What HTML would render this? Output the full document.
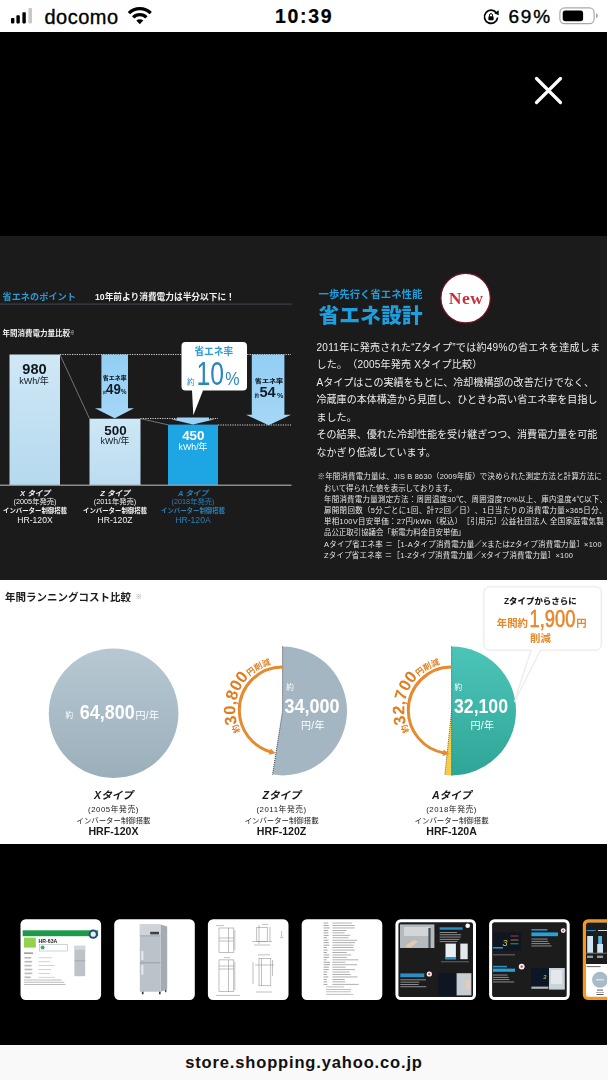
<!DOCTYPE html>
<html lang="ja">
<head>
<meta charset="utf-8">
<title>store.shopping.yahoo.co.jp</title>
<style>
*{margin:0;padding:0;box-sizing:border-box;text-spacing-trim:space-all}
html,body{width:608px;height:1080px;overflow:hidden;background:#fff}
body{position:relative;font-family:"Liberation Sans","Noto Sans CJK JP",sans-serif;color:#000}
.abs{position:absolute;white-space:nowrap;line-height:1}
#stage{position:absolute;left:0;top:0;width:607px;height:1080px;background:#000;overflow:hidden}
#status{position:absolute;left:0;top:0;width:608px;height:32px;background:#fff}
#darkpanel{position:absolute;left:0;top:236px;width:607px;height:344px;background:#1b1b1b}
#whitepanel{position:absolute;left:0;top:580px;width:607px;height:264px;background:#fff}
#bottombar{position:absolute;left:0;top:1045px;width:608px;height:35px;background:#f9f9f9}
svg{position:absolute;left:0;top:0;overflow:visible}
#chart,#righthead,#bodytext,#footnote,#cost{filter:blur(0.4px)}
.jp{font-family:"Liberation Sans","Noto Sans CJK JP",sans-serif}
</style>
</head>
<body>
<div id="stage">
  <div id="darkpanel"></div>
  <div id="whitepanel"></div>
<!-- THUMBNAILS -->
<svg width="607" height="1080" viewBox="0 0 607 1080" id="thumbs" style="overflow:hidden" font-family="'Liberation Sans','Noto Sans CJK JP',sans-serif">
  <defs>
    <filter id="tb" x="-5%" y="-5%" width="110%" height="110%"><feGaussianBlur stdDeviation="0.35"/></filter>
  </defs>
  <g filter="url(#tb)">
  <!-- 1 : spec sheet -->
  <g>
    <rect x="20.5" y="919.2" width="80.6" height="80.8" rx="5.2" fill="#fff"/>
    <rect x="22.7" y="930.3" width="75.4" height="5.9" fill="#1f9a4c"/>
    <circle cx="93.2" cy="934.2" r="4.6" fill="#1d4f7a"/><circle cx="93.2" cy="934.2" r="2.6" fill="#e8eef2"/>
    <rect x="24" y="937.6" width="11.8" height="10" fill="#93d150"/>
    <text x="38.6" y="942.6" font-size="5.2" font-weight="bold" fill="#222">HR-63A</text>
    <rect x="39.6" y="944.4" width="28" height="6.6" fill="#fff" stroke="#9aa" stroke-width="0.5"/>
    <circle cx="42.6" cy="947.6" r="2" fill="#4aa36a"/>
    <rect x="74.4" y="945.8" width="10.8" height="30.4" fill="#bcc2c8"/>
    <rect x="74.4" y="945.8" width="10.8" height="4" fill="#d3d7db"/>
    <rect x="74.4" y="960.6" width="10.8" height="0.5" fill="#8e959c"/>
    <rect x="24" y="952.6" width="9" height="1" fill="#666"/>
    <rect x="24.5" y="957.0" width="6.7" height="1.6" fill="#b9b9b9"/>
    <rect x="24.5" y="960.9" width="7.6" height="1.6" fill="#b9b9b9"/>
    <rect x="24.5" y="964.8" width="7.1" height="1.6" fill="#b9b9b9"/>
    <rect x="24.5" y="968.7" width="7.8" height="1.6" fill="#b9b9b9"/>
    <rect x="24.5" y="972.6" width="7.9" height="1.6" fill="#b9b9b9"/>
    <rect x="24.5" y="976.5" width="6.2" height="1.6" fill="#b9b9b9"/>
    <rect x="38.5" y="957.4" width="13.8" height="0.8" fill="#c8c8c8"/>
    <rect x="38.5" y="961.3" width="11.7" height="0.8" fill="#c8c8c8"/>
    <rect x="38.5" y="965.2" width="16.3" height="0.8" fill="#c8c8c8"/>
    <rect x="38.5" y="969.1" width="12.5" height="0.8" fill="#c8c8c8"/>
    <rect x="38.5" y="973.0" width="11.1" height="0.8" fill="#c8c8c8"/>
    <rect x="38.5" y="976.9" width="16.4" height="0.8" fill="#c8c8c8"/>
    <rect x="24.0" y="979.6" width="37.7" height="0.8" fill="#aaaaaa"/>
    <rect x="24.0" y="981.8" width="40.3" height="0.8" fill="#aaaaaa"/>
    <rect x="24.0" y="984.0" width="41.5" height="0.8" fill="#aaaaaa"/>
  </g>
  <!-- 2 : fridge -->
  <g>
    <rect x="114.2" y="919.2" width="80.6" height="80.8" rx="5.2" fill="#fff"/>
    <path d="M160.5 924.4 L167.2 926.6 V989.6 L160.5 991.7 Z" fill="#a4abb4"/>
    <rect x="139.8" y="924.4" width="20.7" height="67.3" fill="#bcc2ca"/>
    <rect x="139.8" y="924.4" width="20.7" height="11.2" fill="#d0d4d9"/>
    <rect x="150.2" y="931.8" width="8.8" height="2.6" fill="#39424e"/>
    <rect x="139.8" y="935.6" width="20.7" height="0.6" fill="#8b929b"/>
    <rect x="139.8" y="962.5" width="20.7" height="0.7" fill="#868d96"/>
    <rect x="141.3" y="951" width="2.1" height="9" fill="#e6e8ea"/>
    <rect x="141.3" y="965" width="2.1" height="9.6" fill="#e6e8ea"/>
    <rect x="141.900" y="991.7" width="1.6" height="2.6" fill="#333"/>
    <rect x="159" y="991.7" width="1.6" height="2.6" fill="#333"/>
    <rect x="165" y="989.8" width="1.4" height="2.4" fill="#444"/>
  </g>
  <!-- 3 : drawings -->
  <g>
    <rect x="207.9" y="919.2" width="80.6" height="80.8" rx="5.2" fill="#fff"/>
    <g fill="none" stroke="#8d8d8d" stroke-width="0.55">
      <rect x="219" y="928" width="14.8" height="24.5"/><path d="M219 938 H233.800 M219 941 H233.800 M228.500 928 V952.500 M216 925.600 H224 M234.800 930 V950"/>
      <rect x="256.800" y="927.300" width="10.400" height="14.200"/><path d="M252 941.500 H272 M254 945 H270 M259 925 V944 M270 927 V941.500 M262 924.400 H268"/>
      <rect x="219" y="959.900" width="14.800" height="31.800"/><path d="M219 966 H233.800 M219 969 H233.800 M228.500 959.900 V991.700 M216 995.400 H240 M234.800 962 V990 M224 957.600 H230"/>
      <rect x="259" y="958.400" width="11.800" height="27.400"/><path d="M255 965 H274 M261.500 958.400 V985.800 M253 962 V984 M272.500 960 V976 M258 954.800 H270 M256 992 H272"/>
      <path d="M281.600 931 V937 M280 937.600 H283.400"/>
    </g>
  </g>
  <!-- 4 : spec table -->
  <g>
    <rect x="301.7" y="919.2" width="80.6" height="80.8" rx="5.2" fill="#fff"/>
    <rect x="323.6" y="922.6" width="4.6" height="0.9" fill="#9a9a9a"/>
    <rect x="323.6" y="925.1" width="5.0" height="0.9" fill="#9a9a9a"/>
    <rect x="323.6" y="927.5" width="6.2" height="0.9" fill="#9a9a9a"/>
    <rect x="323.6" y="930.0" width="4.6" height="0.9" fill="#9a9a9a"/>
    <rect x="323.6" y="932.4" width="4.8" height="0.9" fill="#9a9a9a"/>
    <rect x="323.6" y="934.9" width="5.1" height="0.9" fill="#9a9a9a"/>
    <rect x="323.6" y="937.3" width="3.6" height="0.9" fill="#9a9a9a"/>
    <rect x="323.6" y="939.8" width="4.8" height="0.9" fill="#9a9a9a"/>
    <rect x="323.6" y="942.2" width="5.2" height="0.9" fill="#9a9a9a"/>
    <rect x="323.6" y="944.7" width="5.8" height="0.9" fill="#9a9a9a"/>
    <rect x="323.6" y="947.1" width="3.3" height="0.9" fill="#9a9a9a"/>
    <rect x="323.6" y="949.6" width="4.1" height="0.9" fill="#9a9a9a"/>
    <rect x="323.6" y="952.0" width="3.3" height="0.9" fill="#9a9a9a"/>
    <rect x="323.6" y="954.5" width="5.8" height="0.9" fill="#9a9a9a"/>
    <rect x="323.6" y="956.9" width="5.4" height="0.9" fill="#9a9a9a"/>
    <rect x="323.6" y="959.4" width="3.1" height="0.9" fill="#9a9a9a"/>
    <rect x="323.6" y="961.8" width="6.4" height="0.9" fill="#9a9a9a"/>
    <rect x="323.6" y="964.3" width="6.4" height="0.9" fill="#9a9a9a"/>
    <rect x="323.6" y="966.7" width="5.3" height="0.9" fill="#9a9a9a"/>
    <rect x="323.6" y="969.2" width="5.2" height="0.9" fill="#9a9a9a"/>
    <rect x="323.6" y="971.6" width="3.6" height="0.9" fill="#9a9a9a"/>
    <rect x="323.6" y="974.1" width="3.1" height="0.9" fill="#9a9a9a"/>
    <rect x="323.6" y="976.5" width="4.8" height="0.9" fill="#9a9a9a"/>
    <rect x="323.6" y="979.0" width="3.2" height="0.9" fill="#9a9a9a"/>
    <rect x="323.6" y="981.4" width="3.7" height="0.9" fill="#9a9a9a"/>
    <rect x="323.6" y="983.9" width="3.8" height="0.9" fill="#9a9a9a"/>
    <rect x="332.4" y="922.6" width="19.4" height="0.9" fill="#a8a8a8"/>
    <rect x="332.4" y="925.1" width="22.2" height="0.9" fill="#a8a8a8"/>
    <rect x="332.4" y="927.5" width="22.3" height="0.9" fill="#a8a8a8"/>
    <rect x="332.4" y="930.0" width="14.2" height="0.9" fill="#a8a8a8"/>
    <rect x="332.4" y="932.4" width="12.2" height="0.9" fill="#a8a8a8"/>
    <rect x="332.4" y="934.9" width="17.8" height="0.9" fill="#a8a8a8"/>
    <rect x="332.4" y="937.3" width="16.2" height="0.9" fill="#a8a8a8"/>
    <rect x="332.4" y="939.8" width="24.6" height="0.9" fill="#a8a8a8"/>
    <rect x="332.4" y="942.2" width="22.7" height="0.9" fill="#a8a8a8"/>
    <rect x="332.4" y="944.7" width="21.3" height="0.9" fill="#a8a8a8"/>
    <rect x="332.4" y="947.1" width="20.7" height="0.9" fill="#a8a8a8"/>
    <rect x="332.4" y="949.6" width="22.3" height="0.9" fill="#a8a8a8"/>
    <rect x="332.4" y="952.0" width="14.3" height="0.9" fill="#a8a8a8"/>
    <rect x="332.4" y="954.5" width="18.8" height="0.9" fill="#a8a8a8"/>
    <rect x="332.4" y="956.9" width="14.5" height="0.9" fill="#a8a8a8"/>
    <rect x="332.4" y="959.4" width="26.0" height="0.9" fill="#a8a8a8"/>
    <rect x="332.4" y="961.8" width="12.9" height="0.9" fill="#a8a8a8"/>
    <rect x="332.4" y="964.3" width="24.7" height="0.9" fill="#a8a8a8"/>
    <rect x="332.4" y="966.7" width="13.2" height="0.9" fill="#a8a8a8"/>
    <rect x="332.4" y="969.2" width="22.6" height="0.9" fill="#a8a8a8"/>
    <rect x="332.4" y="971.6" width="17.2" height="0.9" fill="#a8a8a8"/>
    <rect x="332.4" y="974.1" width="18.3" height="0.9" fill="#a8a8a8"/>
    <rect x="332.4" y="976.5" width="25.1" height="0.9" fill="#a8a8a8"/>
    <rect x="332.4" y="979.0" width="12.3" height="0.9" fill="#a8a8a8"/>
    <rect x="332.4" y="981.4" width="12.9" height="0.9" fill="#a8a8a8"/>
    <rect x="332.4" y="983.9" width="26.2" height="0.9" fill="#a8a8a8"/>
    <rect x="326.0" y="986.5" width="18.1" height="0.8" fill="#b0b0b0"/>
    <rect x="326.0" y="989.0" width="25.0" height="0.8" fill="#b0b0b0"/>
    <rect x="326.0" y="991.4" width="24.9" height="0.8" fill="#b0b0b0"/>
    <rect x="326.0" y="993.9" width="27.6" height="0.8" fill="#b0b0b0"/>
  </g>
  <!-- 5 -->
  <g>
    <rect x="395.4" y="919.2" width="80.6" height="80.8" rx="5.4" fill="#fff"/>
    <rect x="398.4" y="922.2" width="74.6" height="74.8" rx="2.6" fill="#1b1b1c"/>
    <rect x="400" y="924.400" width="34.400" height="23.600" fill="#b4babd"/>
    <rect x="404" y="927" width="26" height="9" fill="#d2d6d8"/>
    <path d="M405 946 L414 940 L418 941.500 L410 948 Z" fill="#e3c8b4"/>
    <rect x="428.400" y="928" width="2.200" height="20" fill="#4a5058"/>
    <rect x="439.600" y="927.300" width="23" height="2.400" fill="#2b8fc4"/>
    <rect x="439.6" y="932.0" width="17.3" height="0.9" fill="#9a9a9a"/>
    <rect x="439.6" y="934.3" width="21.5" height="0.9" fill="#9a9a9a"/>
    <rect x="439.6" y="936.6" width="21.1" height="0.9" fill="#9a9a9a"/>
    <rect x="439.6" y="938.9" width="19.8" height="0.9" fill="#9a9a9a"/>
    <rect x="439.6" y="941.2" width="17.7" height="0.9" fill="#9a9a9a"/>
    <rect x="445.500" y="943.600" width="10.400" height="15.600" fill="#e9eef2"/><rect x="445.500" y="957" width="10.400" height="2.200" fill="#2b8fc4"/>
    <rect x="460.300" y="943.600" width="7.400" height="15.600" fill="#e3e8ec"/>
    <rect x="441" y="961.500" width="28" height="0.700" fill="#7a8a96"/>
    <circle cx="467.700" cy="925.800" r="2.300" fill="#fff"/>
    <rect x="400.300" y="973.400" width="24" height="3.800" fill="#2b8fc4"/>
    <rect x="400.3" y="979.4" width="25.7" height="0.9" fill="#9a9a9a"/>
    <rect x="400.3" y="981.7" width="19.1" height="0.9" fill="#9a9a9a"/>
    <rect x="400.3" y="984.0" width="18.2" height="0.9" fill="#9a9a9a"/>
    <rect x="400.3" y="986.3" width="26.0" height="0.9" fill="#9a9a9a"/>
    <circle cx="429.300" cy="974" r="2.600" fill="#fff"/><circle cx="429.300" cy="974" r="1.200" fill="#d9534f"/>
    <rect x="438.800" y="973.200" width="17.800" height="22.200" fill="#0b1524"/>
    <rect x="456.600" y="973.200" width="14.800" height="22.200" fill="#c5cdd3"/>
    <rect x="466" y="980" width="4" height="9" fill="#e6cbb6"/>
  </g>
  <!-- 6 -->
  <g>
    <rect x="489.1" y="919.2" width="80.6" height="80.8" rx="5.4" fill="#fff"/>
    <rect x="492.1" y="922.2" width="74.6" height="74.8" rx="2.600" fill="#1b1b1c"/>
    <rect x="493" y="932.500" width="28" height="17.800" fill="#0c1422"/>
    <text x="502.400" y="945.800" font-size="9" font-style="italic" fill="#d9d23a">3</text>
    <rect x="510.500" y="935.500" width="8" height="1" fill="#b23a3a"/><rect x="510.500" y="939.500" width="8" height="1" fill="#b07a2a"/><rect x="510.500" y="943.300" width="8" height="1" fill="#2aa07a"/>
    <rect x="493" y="947" width="10" height="1.600" fill="#2b8fc4"/>
    <rect x="531.400" y="929" width="16" height="1.600" fill="#2b8fc4"/>
    <rect x="531.400" y="932.400" width="26.600" height="3.800" fill="#2ba0d4"/>
    <rect x="531.4" y="938.6" width="16.1" height="0.9" fill="#9a9a9a"/>
    <rect x="531.4" y="940.9" width="16.7" height="0.9" fill="#9a9a9a"/>
    <rect x="531.4" y="943.2" width="18.4" height="0.9" fill="#9a9a9a"/>
    <rect x="531.4" y="945.5" width="20.1" height="0.9" fill="#9a9a9a"/>
    <circle cx="563.200" cy="930.600" r="2.400" fill="#fff"/><circle cx="563.200" cy="930.600" r="1.100" fill="#d9534f"/>
    <rect x="493" y="954.400" width="22" height="0.900" fill="#6f7a84"/>
    <rect x="493" y="965.800" width="14" height="1.600" fill="#2b8fc4"/>
    <rect x="493" y="968.600" width="22" height="3.200" fill="#2ba0d4"/>
    <rect x="493.0" y="974.6" width="14.6" height="0.9" fill="#9a9a9a"/>
    <rect x="493.0" y="976.9" width="15.7" height="0.9" fill="#9a9a9a"/>
    <rect x="493.0" y="979.2" width="16.4" height="0.9" fill="#9a9a9a"/>
    <rect x="493.0" y="981.5" width="21.2" height="0.9" fill="#9a9a9a"/>
    <circle cx="521.700" cy="966.600" r="2.900" fill="#fff"/><circle cx="521.700" cy="966.600" r="1.300" fill="#d9534f"/>
    <rect x="531.400" y="968" width="17.600" height="18" fill="#0c1626"/>
    <text x="543" y="978.500" font-size="6" font-style="italic" fill="#d9d23a">3</text>
    <rect x="549" y="968" width="15.800" height="21.600" fill="#cbd2d8"/>
    <rect x="551" y="970" width="11" height="14" fill="#e4e8ec"/>
    <rect x="531.400" y="986.600" width="17" height="2.200" fill="#aeb6bd"/>
  </g>
  <!-- 7 : selected -->
  <g>
    <rect x="582.8" y="919.2" width="80.6" height="80.8" rx="5.400" fill="#f5981f"/>
    <rect x="586.0" y="922.4000000000001" width="74.19999999999999" height="74.39999999999999" rx="2.600" fill="#fff"/>
    <path d="M586.0 925.0 a2.600 2.600 0 0 1 2.600 -2.600 H640 V964 H586.0 Z" fill="#1b1b1c"/>
    <rect x="587.200" y="936" width="5.800" height="16.800" fill="#cfe7f5"/>
    <rect x="597.200" y="944" width="5.800" height="8.800" fill="#cfe7f5"/>
    <rect x="598.200" y="936" width="3.800" height="8" fill="#58b4e6"/>
    <rect x="586" y="952.800" width="22" height="0.600" fill="#aaa"/>
    <rect x="586.600" y="930" width="9" height="1" fill="#2b8fc4"/><rect x="598" y="930" width="10" height="1" fill="#ddd"/>
    <rect x="587" y="955.600" width="6" height="2.400" fill="#999"/><rect x="597" y="955.600" width="6" height="2.400" fill="#999"/>
    <rect x="586.600" y="966.200" width="14" height="0.900" fill="#555"/>
    <circle cx="600" cy="979.800" r="8" fill="#a9bbc6"/>
    <rect x="596" y="979.300" width="8" height="1" fill="#eef2f4"/>
    <rect x="597" y="989.600" width="6" height="0.900" fill="#444"/><rect x="596" y="992" width="8" height="0.700" fill="#888"/><rect x="596.500" y="994" width="7" height="0.900" fill="#444"/>
  </g>
  </g>
</svg>

</div>

<!-- STATUS BAR -->
<div id="status">
  <svg width="608" height="32" viewBox="0 0 608 32">
    <rect x="11" y="18" width="3.4" height="5.4" rx="0.8" fill="#000"/>
    <rect x="16.4" y="15.2" width="3.4" height="8.2" rx="0.8" fill="#000"/>
    <rect x="22.4" y="12.2" width="3.4" height="11.2" rx="0.8" fill="#000"/>
    <rect x="28.4" y="8" width="3.6" height="15.4" rx="0.8" fill="#c8c8c8"/>
    <!-- wifi -->
    <g fill="none" stroke="#000" stroke-width="3.4">
      <path d="M128.9 13.1 A15.4 15.4 0 0 1 150.7 13.1"/>
      <path d="M133.2 17.4 A9.3 9.3 0 0 1 146.4 17.4"/>
    </g>
    <path d="M139.8 24.3 L136.3 20.6 A5 5 0 0 1 143.3 20.6 Z" fill="#000"/>
    <!-- rotation lock -->
    <g transform="translate(0 0.700)">
    <path d="M496.4 12.2 A6.6 6.6 0 1 0 497.6 16.8" fill="none" stroke="#000" stroke-width="1.7"/>
    <path d="M494.2 12.6 L498.6 9.6 L498.8 14.6 Z" fill="#000"/>
    <rect x="488.4" y="15.6" width="5.2" height="4" rx="0.7" fill="#000"/>
    <path d="M489.5 15.8 V14.4 A1.5 1.5 0 0 1 492.5 14.4 V15.8" fill="none" stroke="#000" stroke-width="1"/>
    </g>
    <!-- battery -->
    <rect x="559.9" y="7.9" width="34.2" height="15.8" rx="4.6" fill="none" stroke="#a9a9a9" stroke-width="1.2"/>
    <rect x="562.7" y="10.4" width="20.4" height="10.8" rx="2.6" fill="#000"/>
    <path d="M596 13.3 Q598 14 598 15.8 Q598 17.6 596 18.3 Z" fill="#a9a9a9"/>
  </svg>
  <div class="abs" id="carrier" style="-webkit-text-stroke:0.35px #000;left:44.5px;top:6.5px;font-size:20px;letter-spacing:0.5px">docomo</div>
  <div class="abs" id="clock" style="-webkit-text-stroke:0.2px #000;left:275px;top:6.5px;font-size:19.5px;font-weight:bold;letter-spacing:1.7px">10:39</div>
  <div class="abs" id="batt" style="-webkit-text-stroke:0.4px #000;left:508.500px;top:6.900px;font-size:19px;letter-spacing:1.800px">69%</div>
</div>

<!-- DARK PANEL : LEFT CHART -->
<svg width="608" height="1080" viewBox="0 0 608 1080" id="chart" font-family="'Liberation Sans','Noto Sans CJK JP',sans-serif">
  <defs>
    <linearGradient id="gX" x1="0" y1="0" x2="0" y2="1"><stop offset="0" stop-color="#cfe8f6"/><stop offset="1" stop-color="#b5d9ee"/></linearGradient>
    <linearGradient id="gZ" x1="0" y1="0" x2="0" y2="1"><stop offset="0" stop-color="#cde7f5"/><stop offset="1" stop-color="#bcdcf0"/></linearGradient>
    <linearGradient id="gArr" x1="0" y1="0" x2="0" y2="1"><stop offset="0" stop-color="#92cef4"/><stop offset="1" stop-color="#a6d7f6"/></linearGradient>
  </defs>
  <text x="2.5" y="299.6" font-size="9.2" font-weight="bold" fill="#2b9bd3">省エネのポイント</text>
  <text x="95" y="299.6" font-size="8.700" font-weight="bold" fill="#f2f2f2">10年前より消費電力は半分以下に！</text>
  <rect x="0" y="303.6" width="292" height="1" fill="#3d4a54"/>
  <text x="2.5" y="336" font-size="7.500" font-weight="bold" fill="#f0f0f0">年間消費電力量比較<tspan font-size="4.5" dy="-2.5">※</tspan></text>
  <!-- dotted guides -->
  <g stroke="#d8d8d8" stroke-width="1" stroke-dasharray="1.2 1.2" fill="none">
    <path d="M60 354.5 H291"/>
    <path d="M140.5 418.5 H218"/>
    <path d="M218 425 H291"/>
  </g>
  <g stroke="#8a8a8a" stroke-width="0.8" fill="none">
    <path d="M60 354.8 L89.5 418.6"/>
    <path d="M140.5 418.6 L168 424.8"/>
  </g>
  <!-- bars -->
  <rect x="9.5" y="354.5" width="50.5" height="130.5" fill="url(#gX)"/>
  <rect x="89.5" y="418.7" width="51" height="66.3" fill="url(#gZ)"/>
  <rect x="168" y="424.6" width="50" height="60.4" fill="#1ea6e4"/>
  <rect x="0" y="484.6" width="291.5" height="1.2" fill="#a9a9a9"/>
  <!-- arrows -->
  <path d="M101.4 354.5 H128 V408.2 H134 L114.7 418.2 L95 408.2 H101.4 Z" fill="url(#gArr)"/>
  <path d="M251.800 354.500 H284.400 V414.700 H291 L268.600 425.300 L246 414.700 H251.800 Z" fill="url(#gArr)"/>
  <path d="M177 417.6 H209 V419.3 H215 L193 424.6 L171 419.3 H177 Z" fill="#9dd3f4"/>
  <!-- balloon -->
  <path d="M185.5 342 H243 A4 4 0 0 1 247 346 V386.5 A4 4 0 0 1 243 390.500 H203 L193.300 415.200 L192 390.500 H185.500 A4 4 0 0 1 181.500 386.500 V346 A4 4 0 0 1 185.500 342 Z" fill="#fff"/>
  <text x="213.8" y="354.6" font-size="9.7" font-weight="bold" fill="#2b9bd3" text-anchor="middle">省エネ率</text>
  <text x="187" y="385" font-size="7.6" fill="#2b86bd">約</text>
  <text x="196.500" y="385.400" font-size="34" fill="#2b86bd" textLength="27.500" lengthAdjust="spacingAndGlyphs">10</text>
  <text x="225.200" y="385.400" font-size="19" fill="#2b86bd" textLength="14.300" lengthAdjust="spacingAndGlyphs">%</text>
  <!-- arrow labels -->
  <text x="102.800" y="379.800" font-size="5.200" font-weight="900" fill="#0f1c28" textLength="23.800" lengthAdjust="spacingAndGlyphs">省エネ率</text>
  <text x="103" y="393.600" font-size="3.6" font-weight="bold" fill="#0f1c28">約</text>
  <text x="106" y="393.600" font-size="14.500" font-weight="bold" fill="#0f1c28" textLength="14.800" lengthAdjust="spacingAndGlyphs">49</text>
  <text x="121" y="393.800" font-size="6.500" font-weight="bold" fill="#0f1c28" textLength="5.500" lengthAdjust="spacingAndGlyphs">%</text>
  <text x="254.800" y="383.200" font-size="5.300" font-weight="900" fill="#0f1c28" textLength="28.400" lengthAdjust="spacingAndGlyphs">省エネ率</text>
  <text x="254.800" y="397.300" font-size="4.200" font-weight="bold" fill="#0f1c28">約</text>
  <text x="259.500" y="397" font-size="14" font-weight="bold" fill="#0f1c28" textLength="16.200" lengthAdjust="spacingAndGlyphs">54</text>
  <text x="277" y="397.600" font-size="6.500" font-weight="bold" fill="#0f1c28" textLength="6.400" lengthAdjust="spacingAndGlyphs">%</text>
  <!-- bar values -->
  <text x="34.500" y="373.800" font-size="14.600" font-weight="bold" fill="#10161c" text-anchor="middle">980</text>
  <text x="34" y="383.600" font-size="9" fill="#10161c" text-anchor="middle">kWh/年</text>
  <text x="115.500" y="434.600" font-size="13.400" font-weight="bold" fill="#10161c" text-anchor="middle">500</text>
  <text x="115" y="444.400" font-size="8.800" fill="#10161c" text-anchor="middle">kWh/年</text>
  <text x="193.300" y="440" font-size="13.400" font-weight="bold" fill="#fff" text-anchor="middle">450</text>
  <text x="193" y="449.800" font-size="8.800" fill="#fff" text-anchor="middle">kWh/年</text>
  <!-- type labels -->
  <g text-anchor="middle" fill="#f2f2f2">
    <text x="35" y="496.300" font-size="7.600" font-weight="bold" font-style="italic">X タイプ</text>
    <text x="35" y="504.200" font-size="7.300">(2005年発売)</text>
    <text x="35" y="513" font-size="6.400" font-weight="bold">インバーター制御搭載</text>
    <text x="35" y="522.600" font-size="8.600">HR-120X</text>
    <text x="115" y="496.300" font-size="7.600" font-weight="bold" font-style="italic">Z タイプ</text>
    <text x="115" y="504.200" font-size="7.300">(2011年発売)</text>
    <text x="115" y="513" font-size="6.400" font-weight="bold">インバーター制御搭載</text>
    <text x="115" y="522.600" font-size="8.600">HR-120Z</text>
  </g>
  <g text-anchor="middle" fill="#2a7fb5">
    <text x="193" y="496.300" font-size="7.600" font-weight="bold" font-style="italic">A タイプ</text>
    <text x="193" y="504.200" font-size="7.300">(2018年発売)</text>
    <text x="193" y="513" font-size="6.400" font-weight="bold">インバーター制御搭載</text>
    <text x="193" y="522.600" font-size="8.600">HR-120A</text>
  </g>
</svg>

<!-- DARK PANEL : RIGHT TEXT -->
<svg width="608" height="1080" viewBox="0 0 608 1080" id="righthead" font-family="'Liberation Sans','Noto Sans CJK JP',sans-serif">
  <text x="318.500" y="297.900" font-size="10.400" font-weight="bold" fill="#1f9ede">一歩先行く省エネ性能</text>
  <text x="318.500" y="323.400" font-size="20.800" font-weight="900" fill="#1f9ede">省エネ設計</text>
  <circle cx="465.600" cy="298.100" r="24.700" fill="#fff" stroke="#7c1520" stroke-width="1.200"/>
  <text x="466.200" y="303.600" font-size="17.600" font-weight="bold" fill="#c8303c" letter-spacing="0.5" text-anchor="middle" font-family="'Liberation Serif',serif">New</text>
</svg>
<div class="abs jp" id="bodytext" style="left:316.500px;top:338.700px;font-size:10.050px;line-height:17.500px;color:#ececec;white-space:nowrap"><span style="letter-spacing:0.26px">2011年に発売された“Zタイプ”では約49%の省エネを達成しま</span><br><span style="letter-spacing:0.18px">した。（2005年発売 Xタイプ比較）</span><br>Aタイプはこの実績をもとに、冷却機構部の改善だけでなく、<br>冷蔵庫の本体構造から見直し、ひときわ高い省エネ率を目指し<br>ました。<br>その結果、優れた冷却性能を受け継ぎつつ、消費電力量を可能<br>なかぎり低減しています。</div>
<div class="abs jp" id="footnote" style="left:317.500px;top:471.400px;font-size:7.450px;line-height:11.200px;color:#e4e4e4;white-space:nowrap;padding-left:6.500px;text-indent:-6.500px"><span style="letter-spacing:0.19px">※年間消費電力量は、JIS B 8630（2009年版）で決められた測定方法と計算方法に</span><br><span style="display:inline-block;text-indent:0">おいて得られた値を表示しております。</span><br><span style="display:inline-block;text-indent:0;letter-spacing:0.27px">年間消費電力量測定方法：周囲温度30℃、周囲湿度70%以上、庫内温度4℃以下、</span><br><span style="display:inline-block;text-indent:0;letter-spacing:0.37px">扉開閉回数（5分ごとに1回、計72回／日）、1日当たりの消費電力量×365日分、</span><br><span style="display:inline-block;text-indent:0;letter-spacing:0.30px">単相100V目安単価：27円/kWh（税込）［引用元］公益社団法人 全国家庭電気製</span><br><span style="display:inline-block;text-indent:0">品公正取引協議会「新電力料金目安単価」</span><br><span style="display:inline-block;text-indent:0;letter-spacing:0.24px">Aタイプ省エネ率 ＝［1-Aタイプ消費電力量／XまたはZタイプ消費電力量］×100</span><br><span style="display:inline-block;text-indent:0;letter-spacing:0.24px">Zタイプ省エネ率 ＝［1-Zタイプ消費電力量／Xタイプ消費電力量］×100</span></div>

<!-- WHITE PANEL -->
<svg width="608" height="1080" viewBox="0 0 608 1080" id="cost" font-family="'Liberation Sans','Noto Sans CJK JP',sans-serif">
  <defs>
    <linearGradient id="gGray" x1="0" y1="0" x2="0" y2="1"><stop offset="0" stop-color="#b7c8d2"/><stop offset="1" stop-color="#9bafbb"/></linearGradient>
    <linearGradient id="gTeal" x1="0" y1="0" x2="0" y2="1"><stop offset="0" stop-color="#4cc5b9"/><stop offset="1" stop-color="#2ea596"/></linearGradient>
    <path id="ztp" d="M240.270 731.405 A47.3 47.3 0 0 1 281.775 663.007"/>
    <path id="atp" d="M409.270 731.405 A47.3 47.3 0 0 1 450.775 663.007"/>
    <filter id="soft" x="-10%" y="-10%" width="120%" height="130%"><feGaussianBlur stdDeviation="1.2"/></filter>
  </defs>
  <text x="5" y="600.600" font-size="10.500" font-weight="bold" fill="#1c1c1c">年間ランニングコスト比較</text>
  <text x="135.500" y="598.600" font-size="6.500" fill="#9a9a9a">※</text>

  <!-- X circle -->
  <circle cx="113.600" cy="713.200" r="64.800" fill="url(#gGray)"/>
  <text x="65.500" y="718.300" font-size="7.600" fill="#fff">約</text>
  <text x="79.800" y="719.200" font-size="20.400" font-weight="bold" fill="#fff" textLength="55" lengthAdjust="spacingAndGlyphs">64,800</text>
  <text x="135.500" y="719" font-size="10" letter-spacing="0.3" fill="#fff">円/年</text>

  <!-- Z pie -->
  <path d="M282.600 711.000 L282.600 646.600 A64.4 64.4 0 1 1 272.526 774.607 Z" fill="#a3b6c1"/>
  <path d="M282.600 646.600 L282.600 711.000 L272.526 774.607" fill="none" stroke="#3c4650" stroke-width="1" stroke-dasharray="1 1"/>
  <path d="M282.600 667.000 A43.3 43.3 0 0 0 239.300 710.300 A43.3 43.3 0 0 0 270.665 751.923" fill="none" stroke="#e58a2e" stroke-width="3"/>
  <path d="M275.663 753.356 L268.815 754.746 L270.592 748.548 Z" fill="#e58a2e"/>
  <text x="286.300" y="690" font-size="7.600" fill="#fff">約</text>
  <text x="284.500" y="713.300" font-size="19.600" font-weight="bold" fill="#fff" textLength="55" lengthAdjust="spacingAndGlyphs">34,000</text>
  <text x="301" y="729" font-size="10" letter-spacing="0.3" fill="#fff">円/年</text>
  <text font-size="8.200" font-weight="bold" fill="#e07d1f"><textPath href="#ztp" startOffset="0">約<tspan font-size="16.500" font-weight="bold">30,800</tspan><tspan dx="0.8">円削減</tspan></textPath></text>

  <!-- A pie -->
  <path d="M451.600 711.000 L451.600 646.600 A64.4 64.4 0 0 1 451.600 775.400 Z" fill="url(#gTeal)"/>
  <path d="M451.600 711.000 L451.600 775.400 A64.4 64.4 0 0 1 444.868 775.047 Z" fill="#f3cd4a"/>
  <path d="M451.600 646.600 L451.600 775.400" fill="none" stroke="#2c3b3a" stroke-width="1" stroke-dasharray="1 1"/>
  <path d="M451.600 711.000 L444.868 775.047" fill="none" stroke="#5a5a40" stroke-width="0.9" stroke-dasharray="1 1"/>
  <path d="M451.600 667.000 A43.3 43.3 0 0 0 408.300 710.300 A43.3 43.3 0 0 0 444.081 752.942" fill="none" stroke="#e58a2e" stroke-width="3"/>
  <path d="M449.202 753.845 L442.536 755.944 L443.656 749.594 Z" fill="#e58a2e"/>
  <text x="454.500" y="690" font-size="7.600" fill="#fff">約</text>
  <text x="454" y="713.300" font-size="19.600" font-weight="bold" fill="#fff" textLength="54" lengthAdjust="spacingAndGlyphs">32,100</text>
  <text x="470.500" y="729" font-size="10" letter-spacing="0.3" fill="#fff">円/年</text>
  <text font-size="8.200" font-weight="bold" fill="#e07d1f"><textPath href="#atp" startOffset="0">約<tspan font-size="16.500" font-weight="bold">32,700</tspan><tspan dx="0.8">円削減</tspan></textPath></text>

  <!-- callout -->
  <path d="M489 587 H596.200 A5 5 0 0 1 601.200 592 V645 A5 5 0 0 1 596.200 650 H540.400 L514.300 702 L531.300 650 H489 A5 5 0 0 1 484 645 V592 A5 5 0 0 1 489 587 Z" fill="#d8d8d8" filter="url(#soft)" opacity="0.55"/>
  <path d="M489 587 H596.200 A5 5 0 0 1 601.200 592 V645 A5 5 0 0 1 596.200 650 H540.400 L514.300 702 L531.300 650 H489 A5 5 0 0 1 484 645 V592 A5 5 0 0 1 489 587 Z" fill="#fff" stroke="#e4e4e4" stroke-width="0.8"/>
  <text x="540.300" y="603.600" font-size="8.450" font-weight="900" fill="#1c1c1c" text-anchor="middle">Zタイプからさらに</text>
  <text x="496.800" y="626.600" font-size="10.400" font-weight="bold" fill="#e8872b">年間約</text>
  <text x="529.500" y="627.200" font-size="23.600" fill="#e8872b" stroke="#e8872b" stroke-width="0.6" textLength="46" lengthAdjust="spacingAndGlyphs">1,900</text>
  <text x="576.200" y="626.600" font-size="10.400" font-weight="bold" fill="#e8872b">円</text>
  <text x="540.400" y="642.300" font-size="10.400" font-weight="bold" fill="#e8872b" text-anchor="middle">削減</text>

  <!-- labels -->
  <g text-anchor="middle" fill="#1a1a1a">
    <text x="113.500" y="798.600" font-size="10.600" font-weight="bold" font-style="italic">Xタイプ</text>
    <text x="113.500" y="812" font-size="7.800" letter-spacing="0.55">(2005年発売)</text>
    <text x="113.500" y="822.600" font-size="7.400">インバーター制御搭載</text>
    <text x="113.500" y="834.600" font-size="10.600" font-weight="bold">HRF-120X</text>
    <text x="281.600" y="798.600" font-size="10.600" font-weight="bold" font-style="italic">Zタイプ</text>
    <text x="281.600" y="812" font-size="7.800" letter-spacing="0.55">(2011年発売)</text>
    <text x="281.600" y="822.600" font-size="7.400">インバーター制御搭載</text>
    <text x="281.600" y="834.600" font-size="10.600" font-weight="bold">HRF-120Z</text>
    <text x="451.600" y="798.600" font-size="10.600" font-weight="bold" font-style="italic">Aタイプ</text>
    <text x="451.600" y="812" font-size="7.800" letter-spacing="0.55">(2018年発売)</text>
    <text x="451.600" y="822.600" font-size="7.400">インバーター制御搭載</text>
    <text x="451.600" y="834.600" font-size="10.600" font-weight="bold">HRF-120A</text>
  </g>
</svg>

<!-- CLOSE X -->
<svg width="608" height="1080" viewBox="0 0 608 1080" id="overlay">
  <path d="M536.5 78.5 L560.5 102.5 M560.5 78.5 L536.5 102.5" stroke="#fff" stroke-width="3.2" stroke-linecap="round" fill="none"/>
</svg>

<!-- BOTTOM BAR -->
<div id="bottombar">
  <div class="abs" id="url" style="left:0;width:608px;text-align:center;top:9px;font-size:16.5px;font-weight:bold;color:#111;letter-spacing:0.85px">store.shopping.yahoo.co.jp</div>
</div>
</body>
</html>
